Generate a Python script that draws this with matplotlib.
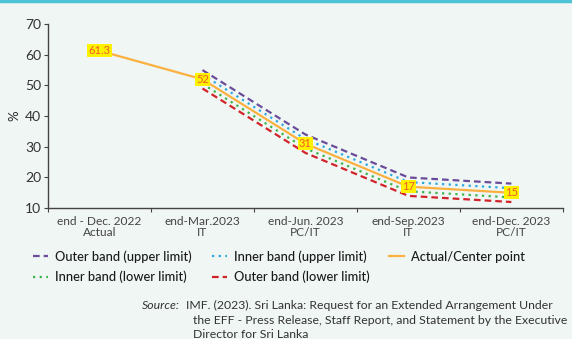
import numpy as np
import matplotlib
matplotlib.use("Agg")
import matplotlib.pyplot as plt

# categories and series
categories = ["end - Dec. 2022\nActual", "end-Mar.2023\nIT", "end-Jun. 2023\nPC/IT",
              "end-Sep.2023\nIT", "end-Dec. 2023\nPC/IT"]
center = [61.3, 52, 31, 17, 15]
outer_upper = [np.nan, 55, 34, 20, 18]
inner_upper = [np.nan, 53.5, 32.5, 18.5, 16.5]
inner_lower = [np.nan, 50.5, 29.5, 15.5, 13.5]
outer_lower = [np.nan, 49, 28, 14, 12]
point_labels = ["61.3", "52", "31", "17", "15"]

bg = "#F0F6F4"
plt.rcParams['font.family'] = ['Lato', 'DejaVu Sans']

fig = plt.figure(figsize=(5.72, 3.39), dpi=100, facecolor=bg)
ax = fig.add_axes([0.084, 0.386, 0.900, 0.543], facecolor=bg)

x = np.arange(len(categories))
ax.plot(x, outer_upper, color="#6B4C9A", lw=1.6, ls=(0, (3, 1.8)), label="Outer band (upper limit)")
ax.plot(x, inner_upper, color="#2AA7DF", lw=1.6, ls=(0, (1, 2)), label="Inner band (upper limit)")
ax.plot(x, center, color="#FBB040", lw=1.6, label="Actual/Center point")
ax.plot(x, inner_lower, color="#3BB44A", lw=1.6, ls=(0, (1, 2)), label="Inner band (lower limit)")
ax.plot(x, outer_lower, color="#D2232A", lw=1.6, ls=(0, (3, 1.8)), label="Outer band (lower limit)")

for xi, v, lab in zip(x, center, point_labels):
    ax.text(xi, v, lab, ha="center", va="center", fontsize=8, color="#F15A29", zorder=5,
            bbox=dict(boxstyle="square,pad=0.1", fc="#FFF200", ec="none"))

ax.set_xlim(-0.5, len(categories) - 0.5)
ax.set_ylim(10, 70)
ax.set_yticks(range(10, 71, 10))
ax.set_xticks(np.arange(-0.5, len(categories), 1.0))
ax.set_xticklabels([])
ax.set_xticks(x, minor=True)
ax.set_xticklabels(categories, minor=True, fontsize=8.6, color="#444444", linespacing=0.9)
ax.tick_params(axis="x", which="minor", length=0, pad=6)
ax.tick_params(axis="x", which="major", length=3, direction="out", color="#444444")
ax.tick_params(axis="y", length=3, color="#444444", labelsize=10, labelcolor="#333333", pad=2)

for s in ["top", "right"]:
    ax.spines[s].set_visible(False)
for s in ["left", "bottom"]:
    ax.spines[s].set_color("#444444")
    ax.spines[s].set_linewidth(1.0)

ax.set_ylabel("%", fontsize=9.5, color="#222222", labelpad=3)

handles, labels = ax.get_legend_handles_labels()
order = [0, 3, 1, 4, 2]
leg = fig.legend([handles[i] for i in order], [labels[i] for i in order], ncol=3,
                 loc="upper left", bbox_to_anchor=(0.058, 0.262), frameon=False,
                 prop={"size": 9.3, "weight": "medium"}, handlelength=1.15,
                 handletextpad=0.55, columnspacing=1.55, labelspacing=0.6,
                 borderaxespad=0, borderpad=0)
for t in leg.get_texts():
    t.set_color("#1a1a1a")

# top accent line
fig.add_artist(plt.Line2D([0, 1], [0.997, 0.997], color="#4FC3D6", lw=2.5, transform=fig.transFigure))

src_kw = dict(fontsize=8.8, color="#333333", va="baseline")
fig.text(0.248, 0.088, "Source:", style="italic", **src_kw)
fig.text(0.326, 0.088, "IMF. (2023). Sri Lanka: Request for an Extended Arrangement Under", **src_kw)
fig.text(0.337, 0.044, "the EFF - Press Release, Staff Report, and Statement by the Executive", **src_kw)
fig.text(0.337, 0.003, "Director for Sri Lanka", **src_kw)

fig.savefig("out.png", dpi=100, facecolor=bg)
